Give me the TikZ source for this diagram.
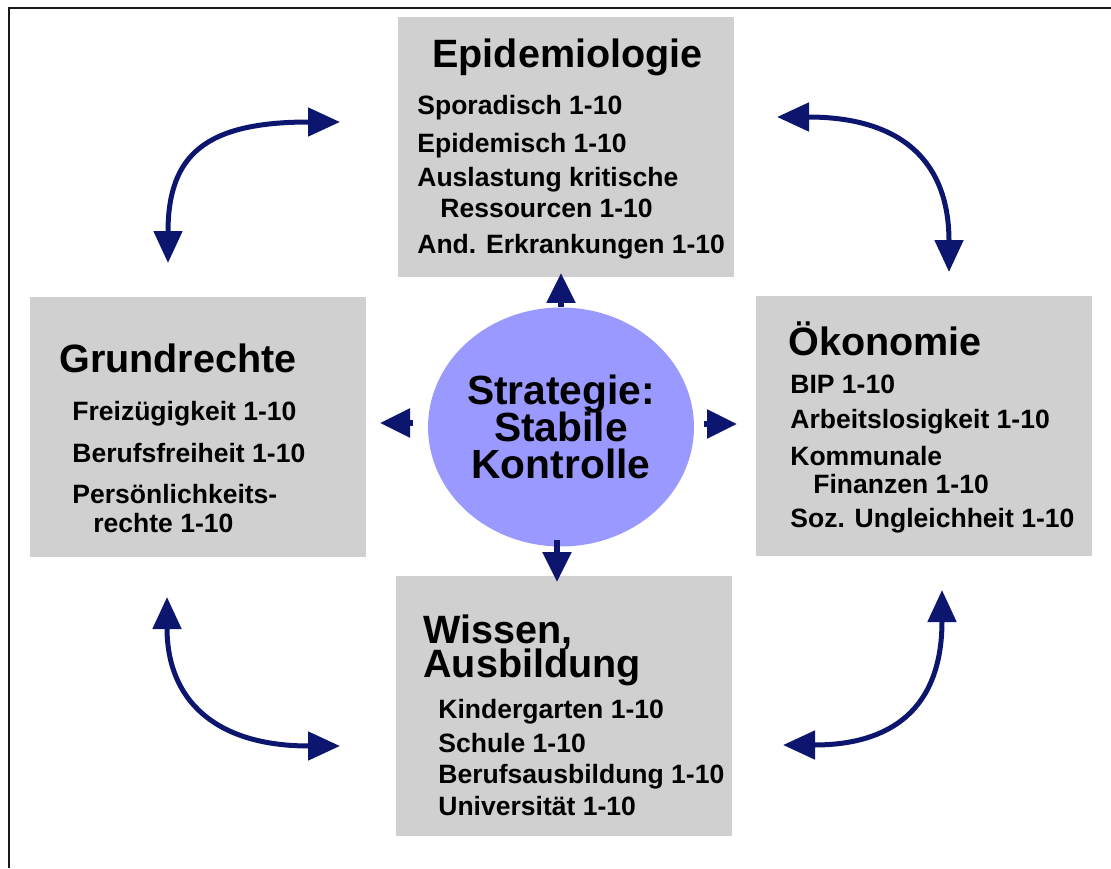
\documentclass[tikz,border=0pt]{standalone}
\usepackage{fontspec}
\setmainfont{Liberation Sans}
\usetikzlibrary{arrows.meta,shapes.geometric,calc}
\definecolor{navy}{RGB}{12,22,110}
\definecolor{kasten}{RGB}{208,208,208}
\definecolor{lila}{RGB}{153,153,255}
\newcommand{\kreisschrift}{\bfseries\fontsize{23.2}{21.3}\selectfont\setlength{\lineskiplimit}{-20pt}}
\newcommand{\titelschrift}{\bfseries\fontsize{22.5}{19.9}\selectfont\setlength{\lineskiplimit}{-20pt}}
\tikzset{
  box/.style={rectangle, fill=kasten, minimum width=6.74cm, minimum height=5.22cm, inner sep=0pt},
  titel/.style={anchor=base west, inner sep=0pt, font=\titelschrift},
  punkt/.style={anchor=base west, inner sep=0pt, font=\bfseries\fontsize{15.1}{18}\selectfont},
  bogen/.style={draw=navy, line width=0.1cm, {Triangle[length=0.64cm,width=0.56cm]}-{Triangle[length=0.64cm,width=0.56cm]}},
  strahl/.style={draw=navy, line width=0.11cm, -{Triangle[length=0.6cm,width=0.56cm]}}
}
\begin{document}
\begin{tikzpicture}[x=0.02cm, y=-0.02cm]
\useasboundingbox (0,0) rectangle (1111,868);
% frame (only top and left edge visible)
\draw[black!90, line width=0.05cm] (9,868) -- (9,8) -- (1111,8);

% the four boxes
\node[box] (epi) at (566,147) {};
\node[box] (grund) at (198,427) {};
\node[box] (oeko) at (924,426) {};
\node[box] (wissen) at (564,706) {};

% centre
\node[ellipse, fill=lila, minimum width=5.04cm, minimum height=4.78cm, inner sep=0pt, align=center,
  font=\kreisschrift] (kreis) at (561,427)
  {Strategie:\\Stabile\\Kontrolle};

% Epidemiologie
\node[titel] (epititel) at (432,68) {Epidemiologie};
\foreach \x/\y/\t [count=\i] in {417/115/Sporadisch 1-10, 417/153/Epidemisch 1-10,
  417/187/Auslastung kritische, 440/217/Ressourcen 1-10, 417/253/And. Erkrankungen 1-10}
  \node[punkt] (epi\i) at (\x,\y) {\t};

% Grundrechte
\node[titel] (grundtitel) at (59,372) {Grundrechte};
\foreach \x/\y/\t [count=\i] in {72/420/Freizügigkeit 1-10, 72/462/Berufsfreiheit 1-10,
  72/503/Persönlichkeits-, 93/532/rechte 1-10}
  \node[punkt] (grund\i) at (\x,\y) {\t};

% Oekonomie
\node[titel] (oekotitel) at (788,355) {Ökonomie};
\foreach \x/\y/\t [count=\i] in {790/393/BIP 1-10, 790/428/Arbeitslosigkeit 1-10,
  790/465/Kommunale, 813/493/Finanzen 1-10, 790/527/Soz. Ungleichheit 1-10}
  \node[punkt] (oeko\i) at (\x,\y) {\t};

% Wissen, Ausbildung
\node[titel, anchor=north west, align=left] (wissentitel) at (423,614) {Wissen,\\Ausbildung};
\foreach \x/\y/\t [count=\i] in {438/718/Kindergarten 1-10, 438/752/Schule 1-10,
  438/783/Berufsausbildung 1-10, 438/815/Universität 1-10}
  \node[punkt] (wissen\i) at (\x,\y) {\t};

% arrows out of the circle
\coordinate (sn) at (561,273);
\coordinate (sw) at (380,423);
\coordinate (so) at (737,424);
\coordinate (ss) at (557,582);
\draw[strahl] (kreis.north) -- (sn);
\draw[strahl] ($(kreis.west)+(-15,-4)$) -- (sw);
\draw[strahl] ($(kreis.east)+(10,-3)$) -- (so);
\draw[strahl] ($(kreis.south)+(-4,-7)$) -- (ss);

% curved arrows in the corners
\coordinate (lo1) at (168,263); \coordinate (lo2) at (340,122);
\coordinate (ro1) at (777,117); \coordinate (ro2) at (949,272);
\coordinate (lu1) at (167,597); \coordinate (lu2) at (340,746);
\coordinate (ru1) at (783,745); \coordinate (ru2) at (942,590);
\draw[bogen] (lo1) .. controls (168,155) and (205,122) .. (lo2);
\draw[bogen] (ro1) .. controls (900,117) and (949,160) .. (ro2);
\draw[bogen] (lu1) .. controls (167,700) and (215,746) .. (lu2);
\draw[bogen] (ru1) .. controls (890,745) and (942,710) .. (ru2);
\end{tikzpicture}
\end{document}
